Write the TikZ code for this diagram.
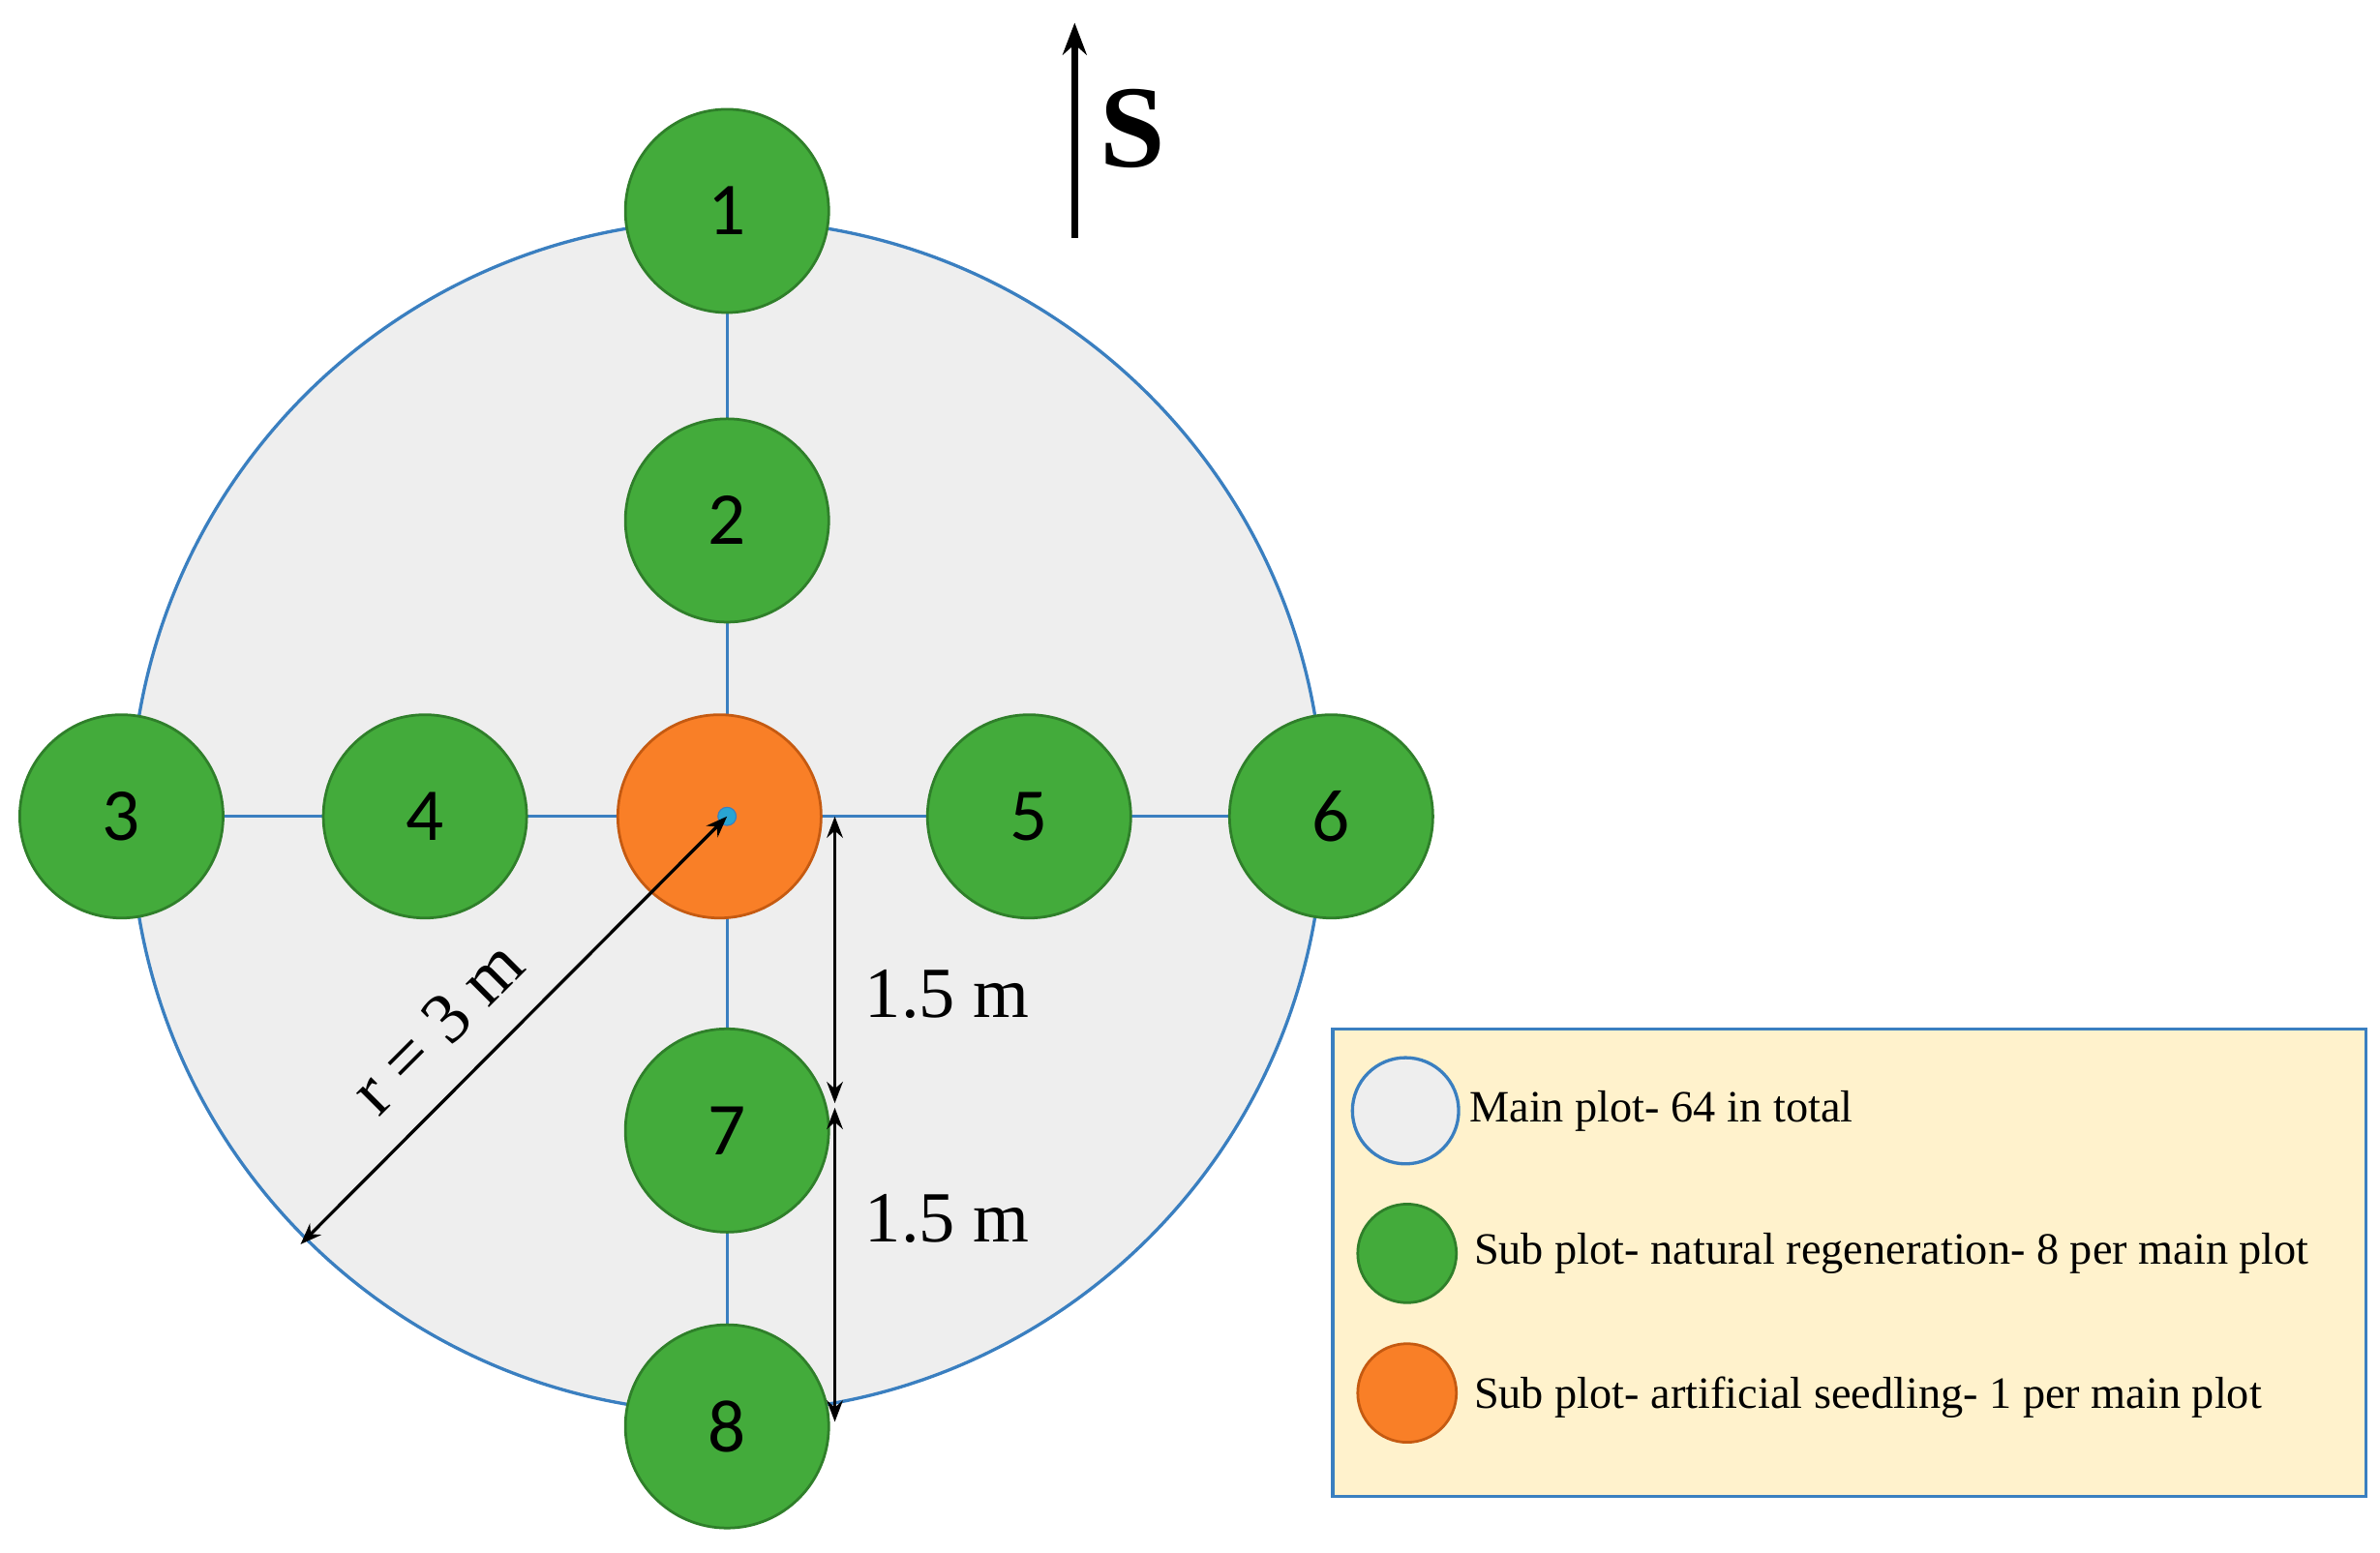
\documentclass[tikz,border=0pt]{standalone}
\usepackage{fontspec}
\setmainfont{Liberation Serif}
\newfontfamily\numf{Carlito}
\usetikzlibrary{arrows.meta}
\definecolor{gfill}{HTML}{43AB3B}
\definecolor{gdraw}{HTML}{2F7F2A}
\definecolor{ofill}{HTML}{F97F27}
\definecolor{odraw}{HTML}{C55A11}
\definecolor{pfill}{HTML}{EEEEEE}
\definecolor{bl}{HTML}{3A7FC0}
\definecolor{lfill}{HTML}{FFF2CC}
\begin{document}
\begin{tikzpicture}[x=0.02cm,y=0.02cm,
 sub/.style={circle,minimum size=2.68cm,fill=gfill,draw=gdraw,line width=1pt,inner sep=0pt,font=\numf\fontsize{28}{30}\selectfont},
 dim/.style={{Stealth[length=8pt]}-{Stealth[length=8pt]},line width=1.2pt},
 lab/.style={font=\fontsize{27}{29}\selectfont},
 leg/.style={font=\fontsize{16.8}{18}\selectfont,anchor=west}]
\useasboundingbox (0,0) rectangle (1568,-1023);
\node[circle,minimum size=15.72cm,fill=pfill,draw=bl,line width=1.2pt] (main) at (479,-538) {};
\draw[bl,line width=1.2pt] (479,-139)--(479,-940) (80,-538)--(877,-538);
\node[sub] (n1) at (479,-139) {1};
\node[sub] (n2) at (479,-343) {2};
\node[sub] (n3) at (80,-538) {3};
\node[sub] (n4) at (280,-538) {4};
\node[sub,fill=ofill,draw=odraw] (c) at (474,-538) {};
\node[sub] (n5) at (678,-538) {5};
\node[sub] (n6) at (877,-538) {6};
\node[sub] (n7) at (479,-745) {7};
\node[sub] (n8) at (479,-940) {8};
\node[circle,fill=bl!70!cyan,draw=bl,minimum size=0.24cm,inner sep=0pt] (ctr) at (479,-538) {};
\coordinate (rend) at (198,-820);
\draw[dim] (ctr.center)--(rend);
\node[lab,rotate=45,inner sep=0pt] at (288,-677) {r = 3 m};
\coordinate (d1) at (550,-538); \coordinate (d2) at (550,-727);
\coordinate (d3) at (550,-730); \coordinate (d4) at (550,-937);
\draw[dim] (d1)--(d2); \draw[dim] (d3)--(d4);
\node[lab] at (624,-655) {1.5 m};
\node[lab] at (624,-803) {1.5 m};
\coordinate (s1) at (708,-157); \coordinate (s2) at (708,-15);
\draw[-{Stealth[length=12pt]},line width=2.5pt] (s1)--(s2);
\node[font=\bfseries\fontsize{44}{46}\selectfont] at (746,-85) {S};
\node[draw=bl,fill=lfill,line width=1.2pt,minimum width=13.62cm,minimum height=6.16cm,anchor=north west] (legbox) at (877,-677) {};
\node[circle,minimum size=1.4cm,fill=pfill,draw=bl,line width=1.2pt] (l1) at (926,-732) {};
\node[circle,minimum size=1.3cm,fill=gfill,draw=gdraw,line width=1pt] (l2) at (927,-826) {};
\node[circle,minimum size=1.3cm,fill=ofill,draw=odraw,line width=1pt] (l3) at (927,-918) {};
\node[leg] at (962,-732) {Main plot- 64 in total};
\node[leg] at (965,-826) {Sub plot- natural regeneration- 8 per main plot};
\node[leg] at (965,-921) {Sub plot- artificial seedling- 1 per main plot};
\end{tikzpicture}
\end{document}
